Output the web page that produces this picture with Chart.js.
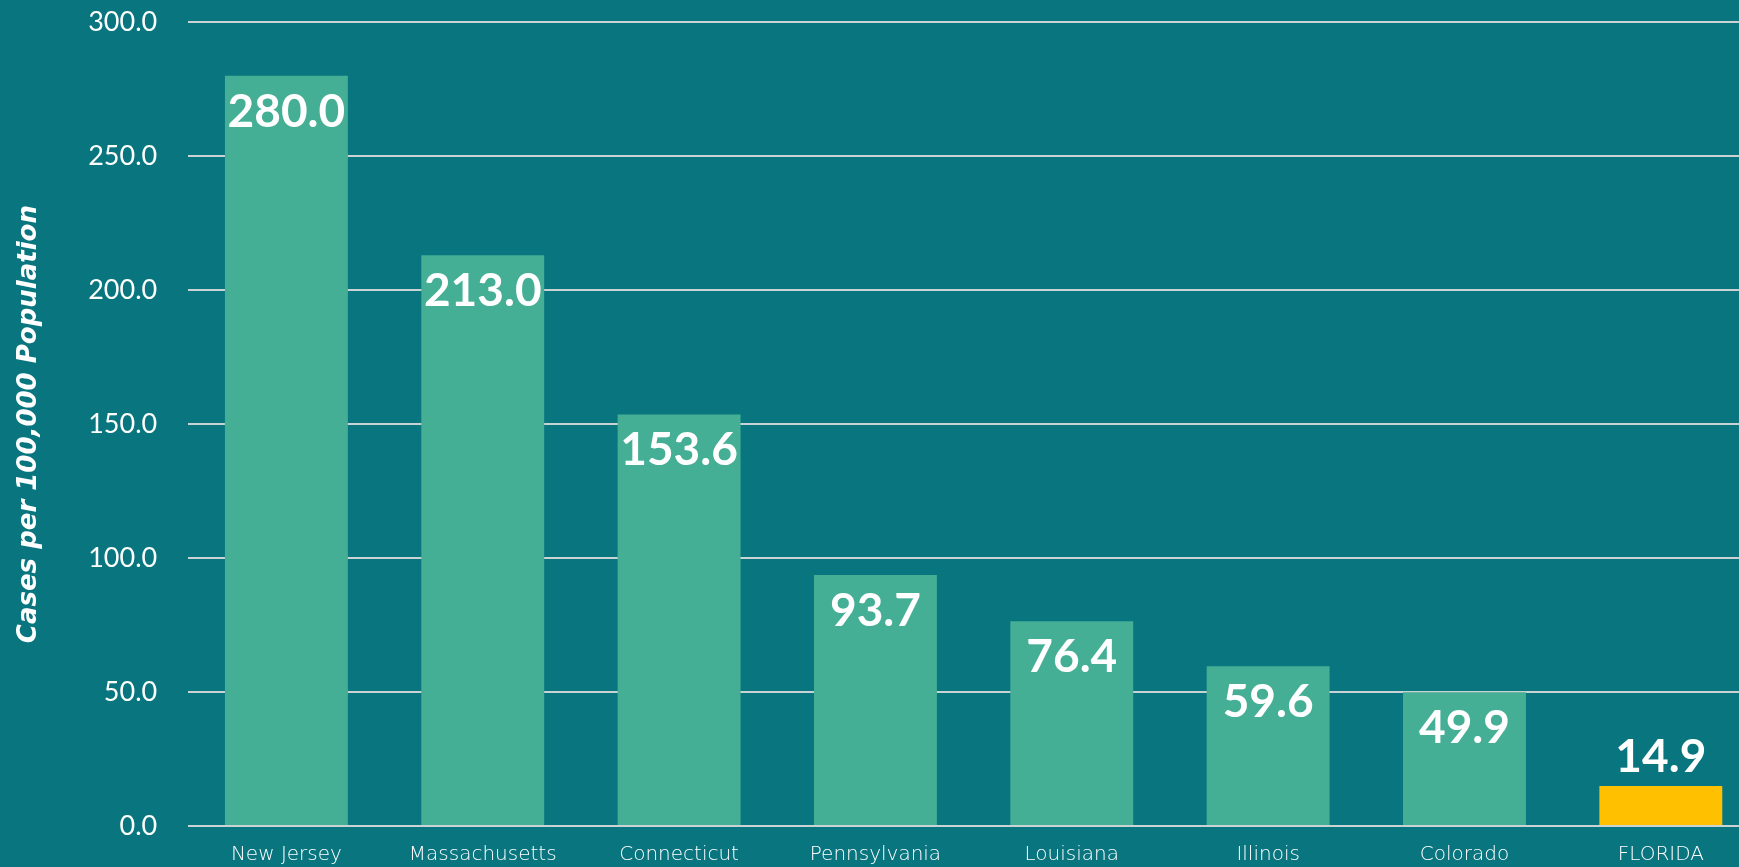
<!DOCTYPE html>
<html>
<head>
<meta charset="utf-8">
<script src="https://cdn.jsdelivr.net/npm/chart.js@4/dist/chart.umd.min.js"></script>
<style>
    html, body { margin: 0; padding: 0; background: #08757F; overflow: hidden; }
    #wrap { width: 1760px; height: 867px; position: relative; }
</style>
</head>
<body>
<div id="wrap"><canvas id="chartCasos"></canvas></div>
<script>
const estados = ['New Jersey', 'Massachusetts', 'Connecticut', 'Pennsylvania', 'Louisiana', 'Illinois', 'Colorado', 'FLORIDA'];
const casos = [280.0, 213.0, 153.6, 93.7, 76.4, 59.6, 49.9, 14.9];
const coresBarras = ['#45AF95', '#45AF95', '#45AF95', '#45AF95', '#45AF95', '#45AF95', '#45AF95', '#FFC000'];

const colors = {
    fundo: '#08757F',
    grade: '#C9D3D4',
    texto: '#FFFFFF'
};

// rótulos em cima das barras (dentro quando cabe, fora quando a barra é baixa)
const rotulosPlugin = {
    id: 'rotulos',
    afterDatasetsDraw(chart) {
        const ctx = chart.ctx;
        const meta = chart.getDatasetMeta(0);
        ctx.save();
        ctx.fillStyle = colors.texto;
        ctx.font = 'bold 46px Lato';
        ctx.textAlign = 'center';
        meta.data.forEach((bar, i) => {
            const texto = casos[i].toFixed(1);
            const altura = bar.base - bar.y;
            if (altura > 70) {
                ctx.textBaseline = 'top';
                ctx.fillText(texto, bar.x, bar.y + 13);
            } else {
                ctx.textBaseline = 'alphabetic';
                ctx.fillText(texto, bar.x, bar.y - 14);
            }
        });
        ctx.restore();
    }
};

const ctxCasos = document.getElementById('chartCasos').getContext('2d');
const chartCasos = new Chart(ctxCasos, {
    type: 'bar',
    data: {
        labels: estados,
        datasets: [{
            data: casos,
            backgroundColor: coresBarras,
            borderWidth: 0,
            barPercentage: 0.626,
            categoryPercentage: 1
        }]
    },
    options: {
        responsive: true,
        maintainAspectRatio: false,
        animation: false,
        layout: {
            padding: { left: 14, right: 1, top: 0, bottom: -17 }
        },
        plugins: {
            legend: { display: false },
            tooltip: { enabled: false }
        },
        scales: {
            x: {
                grid: { display: false, drawTicks: false },
                border: { display: false },
                ticks: {
                    color: colors.texto,
                    font: { family: 'DejaVu Sans', size: 20, weight: 200 },
                    padding: 17,
                    maxRotation: 0
                }
            },
            y: {
                min: 0,
                max: 300,
                grid: {
                    color: colors.grade,
                    lineWidth: 2,
                    drawTicks: true,
                    tickLength: 25,
                    tickColor: 'transparent'
                },
                border: { display: false },
                ticks: {
                    stepSize: 50,
                    color: colors.texto,
                    font: { family: 'Lato', size: 27 },
                    padding: 6,
                    callback: v => v.toFixed(1)
                },
                title: {
                    display: true,
                    text: 'Cases per 100,000 Population',
                    color: colors.texto,
                    font: { family: 'DejaVu Sans', size: 26, weight: 'bold', style: 'italic' },
                    padding: { top: 0, bottom: 37 }
                }
            }
        }
    },
    plugins: [rotulosPlugin]
});
</script>
</body>
</html>
